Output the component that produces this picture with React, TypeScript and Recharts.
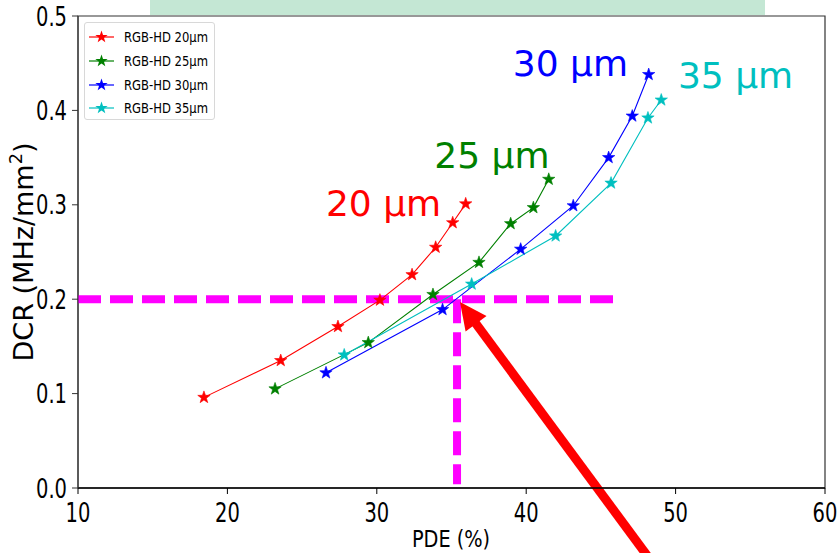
import React from 'react';
import { LineChart, Line, XAxis, YAxis, ReferenceLine, ReferenceDot, ReferenceArea, Legend } from 'recharts';

// ---- data (PDE %, DCR MHz/mm^2) ----
const pde20 = [18.43, 23.57, 27.4, 30.21, 32.36, 33.94, 35.08, 35.95];
const dcr20 = [0.096, 0.135, 0.171, 0.199, 0.226, 0.255, 0.281, 0.301];
const pde25 = [23.19, 29.43, 33.76, 36.84, 38.96, 40.48, 41.51];
const dcr25 = [0.105, 0.154, 0.205, 0.239, 0.28, 0.297, 0.327];
const pde30 = [26.6, 34.4, 39.63, 43.15, 45.52, 47.1, 48.2];
const dcr30 = [0.122, 0.189, 0.253, 0.299, 0.35, 0.394, 0.438];
const pde35 = [27.82, 36.35, 41.97, 45.68, 48.15, 49.04];
const dcr35 = [0.141, 0.216, 0.267, 0.323, 0.392, 0.411];

const seriesNames = ['RGB-HD 20µm', 'RGB-HD 25µm', 'RGB-HD 30µm', 'RGB-HD 35µm'];
const seriesColors = ['#ff0000', '#008000', '#0000ff', '#00bfbf'];
const sizeLabels = ['20 µm', '25 µm', '30 µm', '35 µm'];
const sizeLabelX = [30.45, 37.71, 42.96, 54.01];
const sizeLabelY = [0.288, 0.339, 0.436, 0.424];

const xTicks = [10, 20, 30, 40, 50, 60];
const yTicks = [0.0, 0.1, 0.2, 0.3, 0.4, 0.5];

// threshold guide and arrow (data coordinates)
const dcrLimit = 0.2;
const pdeAtLimit = 35.37;
const guideEndX = 46.15;
const arrowTail = { x: 48.3, y: -0.076 };
const arrowTip = { x: 35.57, y: 0.197 };

const toRows = (xs: number[], ys: number[]) => xs.map((x, i) => ({ x, y: ys[i] }));
const series = [
  toRows(pde20, dcr20),
  toRows(pde25, dcr25),
  toRows(pde30, dcr30),
  toRows(pde35, dcr35),
];

const starPoints = (cx: number, cy: number, R: number, r: number) => {
  const pts: string[] = [];
  for (let i = 0; i < 10; i++) {
    const a = -Math.PI / 2 + (i * Math.PI) / 5;
    const rad = i % 2 === 0 ? R : r;
    pts.push(`${cx + rad * Math.cos(a)},${cy + rad * Math.sin(a)}`);
  }
  return pts.join(' ');
};

const makeStar = (color: string) => (p: any) => {
  if (p.cx == null || p.cy == null) return <g key={`e${p.index}`} />;
  return (
    <polygon
      key={`s${p.index}`}
      points={starPoints(p.cx, p.cy, 6.5, 2.6)}
      fill={color}
      stroke={color}
      strokeWidth={0.6}
    />
  );
};

const YTick = (props: any) => {
  const { x, y, payload } = props;
  return (
    <text
      transform={`translate(${x},${y + 9.5}) scale(0.75,1)`}
      textAnchor="end"
      fontSize={26}
      fontFamily="DejaVu Sans"
      fill="#000"
    >
      {Number(payload.value).toFixed(1)}
    </text>
  );
};

const XTick = (props: any) => {
  const { x, y, payload } = props;
  return (
    <text
      transform={`translate(${x},${y + 26}) scale(0.75,1)`}
      textAnchor="middle"
      fontSize={26}
      fontFamily="DejaVu Sans"
      fill="#000"
    >
      {payload.value}
    </text>
  );
};

const LegendBox = () => (
  <div
    style={{
      width: 131,
      height: 98,
      border: '1px solid #d8d8d8',
      borderRadius: 3,
      background: '#fff',
      boxSizing: 'border-box',
      position: 'relative',
    }}
  >
    {seriesNames.map((n, i) => {
      const cy = 14 + i * 23.8;
      return (
        <div key={n} style={{ position: 'absolute', left: 0, top: cy - 8, height: 16, width: 131 }}>
          <svg width={36} height={16} style={{ position: 'absolute', left: 0, top: 0 }}>
            <line x1={4} y1={8} x2={29} y2={8} stroke={seriesColors[i]} strokeWidth={1.2} />
            <polygon points={starPoints(16.5, 8, 6.5, 2.6)} fill={seriesColors[i]} />
          </svg>
          <span
            style={{
              position: 'absolute',
              left: 39,
              top: -1,
              fontFamily: 'DejaVu Sans',
              fontSize: 14.5,
              lineHeight: '18px',
              transform: 'scaleX(0.8)',
              transformOrigin: 'left center',
              whiteSpace: 'nowrap',
              color: '#000',
            }}
          >
            {n}
          </span>
        </div>
      );
    })}
  </div>
);

const ArrowShape = (props: any) => {
  const { x1, y1, x2, y2 } = props;
  if ([x1, y1, x2, y2].some((v) => v == null || isNaN(v))) return <g />;
  const dx = x2 - x1;
  const dy = y2 - y1;
  const len = Math.sqrt(dx * dx + dy * dy);
  const ux = dx / len;
  const uy = dy / len;
  const px = -uy;
  const py = ux;
  const headLen = 27;
  const half = 13;
  const bx = x2 - ux * headLen;
  const by = y2 - uy * headLen;
  return (
    <g>
      <line x1={x1} y1={y1} x2={bx + ux * 3} y2={by + uy * 3} stroke="#ff0000" strokeWidth={9} />
      <polygon
        points={`${x2},${y2} ${bx + px * half},${by + py * half} ${bx - px * half},${by - py * half}`}
        fill="#ff0000"
      />
    </g>
  );
};

const makeSizeLabel = (text: string, color: string) => (p: any) => (
  <text
    x={p.cx}
    y={p.cy}
    textAnchor="middle"
    fontSize={36}
    fontFamily="DejaVu Sans"
    fill={color}
  >
    {text}
  </text>
);

export default function App() {
  return (
    <div style={{ position: 'absolute', left: 0, top: 0, width: 837, height: 553, background: '#fff' }}>
      <div
        style={{ position: 'absolute', left: 150, top: 0, width: 615, height: 15, background: '#c4e7d4' }}
      />
      <LineChart
        width={837}
        height={553}
        margin={{ top: 16, right: 12, bottom: 0, left: 0 }}
        style={{ position: 'absolute', left: 0, top: 0 }}
      >
        <XAxis
          type="number"
          dataKey="x"
          domain={[10, 60]}
          ticks={xTicks}
          allowDataOverflow
          height={65}
          tickSize={6}
          tickMargin={2}
          tick={<XTick />}
          axisLine={{ stroke: '#000', strokeWidth: 1.3 }}
          tickLine={{ stroke: '#000' }}
          label={{
            content: () => (
              <text
                transform="translate(451,547) scale(0.84,1)"
                textAnchor="middle"
                fontSize={23}
                fontFamily="DejaVu Sans"
                fill="#000"
              >
                PDE (%)
              </text>
            ),
          }}
        />
        <YAxis
          type="number"
          dataKey="y"
          domain={[0, 0.5]}
          ticks={yTicks}
          allowDataOverflow
          width={78}
          tickSize={6}
          tickMargin={5}
          tick={<YTick />}
          axisLine={{ stroke: '#333' }}
          tickLine={{ stroke: '#333' }}
          label={{
            content: () => (
              <text
                transform="translate(33,252) rotate(-90) scale(1.04,1)"
                textAnchor="middle"
                fontSize={26}
                fontFamily="DejaVu Sans"
                fill="#000"
              >
                DCR (MHz/mm
                <tspan dy={-11} fontSize={17}>2</tspan>
                <tspan dy={11}>)</tspan>
              </text>
            ),
          }}
        />
        <ReferenceArea x1={10} x2={60} y1={0} y2={0.5} fill="none" stroke="#333" strokeWidth={1.2} ifOverflow="visible" />
        <ReferenceLine
          segment={[
            { x: 10, y: dcrLimit },
            { x: guideEndX, y: dcrLimit },
          ]}
          stroke="#ff00ff"
          strokeWidth={8}
          strokeDasharray="23 9"
          ifOverflow="visible"
        />
        <ReferenceLine
          segment={[
            { x: pdeAtLimit, y: dcrLimit },
            { x: pdeAtLimit, y: 0.004 },
          ]}
          stroke="#ff00ff"
          strokeWidth={8}
          strokeDasharray="24 9"
          ifOverflow="visible"
        />
        {series.map((d, i) => (
          <Line
            key={seriesNames[i]}
            data={d}
            dataKey="y"
            name={seriesNames[i]}
            type="linear"
            stroke={seriesColors[i]}
            strokeWidth={1.1}
            dot={makeStar(seriesColors[i])}
            activeDot={false}
            isAnimationActive={false}
          />
        ))}
        {sizeLabels.map((t, i) => (
          <ReferenceDot
            key={t}
            x={sizeLabelX[i]}
            y={sizeLabelY[i]}
            r={0}
            ifOverflow="visible"
            shape={makeSizeLabel(t, seriesColors[i])}
          />
        ))}
        <ReferenceLine
          segment={[arrowTail, arrowTip]}
          ifOverflow="visible"
          shape={ArrowShape}
        />
        <Legend
          layout="vertical"
          align="center"
          verticalAlign="middle"
          content={<LegendBox />}
          wrapperStyle={{ position: 'absolute', left: 84, top: 22, width: 131, height: 98 }}
        />
      </LineChart>
    </div>
  );
}
